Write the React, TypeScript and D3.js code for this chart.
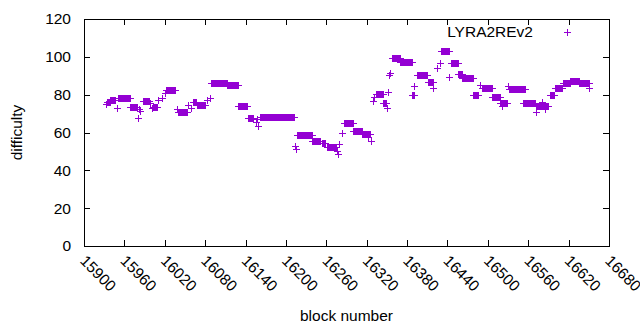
import React from "react";
import * as d3 from "d3";

// runs of consecutive blocks sharing one difficulty
const runStart = [15934, 15939, 15950, 15968, 15988, 16002, 16022, 16040, 16062, 16068, 16089, 16112, 16129, 16144, 16161, 16216, 16239, 16253, 16261, 16286, 16299, 16313, 16334, 16344, 16357, 16369, 16387, 16395, 16411, 16430, 16445, 16455, 16462, 16478, 16491, 16506, 16518, 16532, 16552, 16572, 16592, 16600, 16611, 16622, 16635];
const runEnd = [15939, 15946, 15968, 15979, 15997, 16008, 16035, 16053, 16066, 16080, 16112, 16129, 16142, 16151, 16212, 16239, 16250, 16258, 16275, 16299, 16313, 16325, 16344, 16349, 16369, 16387, 16391, 16409, 16418, 16443, 16455, 16462, 16478, 16485, 16506, 16518, 16528, 16555, 16570, 16590, 16598, 16610, 16622, 16635, 16650];
const runDifficulty = [76, 77, 78.2, 73.5, 76.6, 73.5, 82.4, 71, 76, 74.5, 86, 85, 74, 67.6, 68, 58.7, 55.5, 54.3, 52.5, 65, 60.8, 59, 80.3, 75.6, 99.4, 97.2, 80, 90.4, 86.7, 103, 96.7, 91, 88.8, 79.8, 83.5, 78.8, 75.6, 82.8, 75.6, 74, 80, 83.5, 86, 87.2, 86.3];

// isolated blocks
const singleBlock = [15932, 15949, 15980, 15982, 15983, 15998, 16001, 16010, 16016, 16020, 16038, 16054, 16059, 16083, 16087, 16155, 16157, 16158, 16213, 16215, 16276, 16277, 16279, 16283, 16322, 16326, 16329, 16331, 16350, 16351, 16353, 16354, 16390, 16418, 16424, 16429, 16443, 16488, 16521, 16530, 16571, 16580, 16585, 16651];
const singleDifficulty = [75.2, 72.8, 67.6, 72.5, 71.3, 75.6, 73, 77, 78.2, 81, 72.4, 74.5, 73, 77, 78, 65.5, 67, 63.5, 53, 51.5, 50, 48.5, 54, 60, 57.6, 55.5, 76.6, 78.7, 73, 81.4, 90.4, 91.4, 84.6, 83.5, 94, 96.7, 89.3, 85, 74, 84.6, 70.8, 76, 72.5, 83.5];

const xTicks = d3.range(15900, 16681, 60);
const yTicks = d3.range(0, 121, 20);

const W = 640;
const H = 330;
const left = 84;
const right = 609;
const top = 19;
const bottom = 246;
const color = "#9400d3";
const font = "'Liberation Sans', Arial, sans-serif";
const fs = 15.5;

export default function App() {
  const x = d3.scaleLinear().domain([15900, 16680]).range([left, right]);
  const y = d3.scaleLinear().domain([0, 120]).range([bottom, top]);

  const pts: [number, number][] = [];
  runStart.forEach((s, i) => {
    for (let b = s; b <= runEnd[i]; b++) pts.push([b, runDifficulty[i]]);
  });
  singleBlock.forEach((b, i) => pts.push([b, singleDifficulty[i]]));

  const cross = (px: number, py: number, r: number) =>
    `M${px - r},${py}h${2 * r}M${px},${py - r}v${2 * r}`;

  const d = pts
    .map(([b, v]) => cross(Math.round(x(b)) + 0.5, Math.round(y(v)) + 0.5, 3.5))
    .join("");

  return (
    <div style={{ position: "absolute", left: 0, top: 0 }}>
      <svg width={W} height={H} style={{ display: "block", background: "#fff" }} fontFamily={font}>
        {/* ticks, mirrored on all sides */}
        <g stroke="#000" strokeWidth={1}>
          {yTicks.map((t) => (
            <g key={"y" + t}>
              <line x1={left} x2={left + 6} y1={Math.round(y(t)) + 0.5} y2={Math.round(y(t)) + 0.5} />
              <line x1={right - 6} x2={right} y1={Math.round(y(t)) + 0.5} y2={Math.round(y(t)) + 0.5} />
            </g>
          ))}
          {xTicks.map((t) => (
            <g key={"x" + t}>
              <line x1={Math.round(x(t)) + 0.5} x2={Math.round(x(t)) + 0.5} y1={bottom} y2={bottom - 6} />
              <line x1={Math.round(x(t)) + 0.5} x2={Math.round(x(t)) + 0.5} y1={top} y2={top + 6} />
            </g>
          ))}
        </g>
        <rect x={left + 0.5} y={top + 0.5} width={right - left} height={bottom - top} fill="none" stroke="#000" strokeWidth={1} />

        {yTicks.map((t) => (
          <text key={"yl" + t} x={71} y={y(t)} dy="0.35em" textAnchor="end" fontSize={fs}>
            {t}
          </text>
        ))}
        {xTicks.map((t) => (
          <text
            key={"xl" + t}
            transform={`translate(${x(t) - 1},${bottom + 12}) rotate(45)`}
            textAnchor="start"
            dy="0.35em"
            fontSize={fs}
          >
            {t}
          </text>
        ))}

        <text x={(left + right) / 2} y={321} textAnchor="middle" fontSize={fs}>
          block number
        </text>
        <text transform={`translate(22,${(top + bottom) / 2}) rotate(-90)`} textAnchor="middle" fontSize={fs}>
          difficulty
        </text>

        <path d={d} fill="none" stroke={color} strokeWidth={1} />

        <text x={533} y={32} dy="0.35em" textAnchor="end" fontSize={fs}>
          LYRA2REv2
        </text>
        <path d={cross(567.5, 32.5, 3.5)} fill="none" stroke={color} strokeWidth={1} />
      </svg>
    </div>
  );
}
